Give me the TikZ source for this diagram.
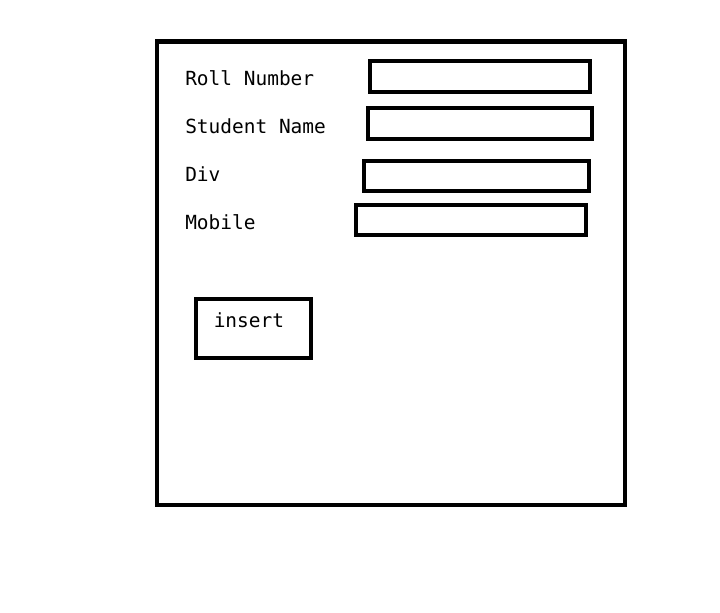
\documentclass[tikz,border=0pt]{standalone}
\usepackage{fontspec}
\setmonofont{DejaVu Sans Mono}
\begin{document}
\begin{tikzpicture}[x=0.75pt,y=-0.75pt,
  frame/.style={draw=black,line width=3.4pt},
  field/.style={draw=black,line width=3.4pt},
  lbl/.style={anchor=base west,inner sep=0pt,font=\ttfamily\fontsize{14.6pt}{16pt}\selectfont}]
\useasboundingbox[fill=white] (0,0) rectangle (720,612);
\draw[frame] (157,41.5) rectangle (625,505);
\node[lbl] (l1) at (185,85.7) {Roll Number};
\node[lbl] (l2) at (185,133.7) {Student Name};
\node[lbl] (l3) at (185,181.7) {Div};
\node[lbl] (l4) at (185,229) {Mobile};
\draw[field] (370,61) rectangle (590,92);
\draw[field] (368,108) rectangle (592,139);
\draw[field] (364,161) rectangle (589,191);
\draw[field] (356,205) rectangle (586,235);
\draw[field] (196,299) rectangle (311,358);
\node[lbl] (btn) at (213.5,327) {insert};
\end{tikzpicture}
\end{document}
